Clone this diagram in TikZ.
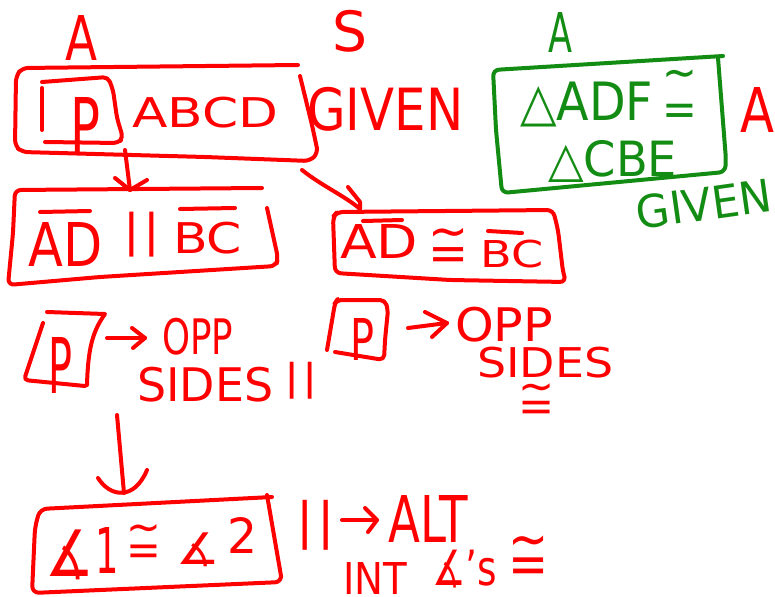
\documentclass[tikz,border=0pt]{standalone}
\usepackage{fontspec}
\setmainfont{DejaVu Sans}
\usepackage{graphicx}
\definecolor{ink}{RGB}{255,0,0}
\definecolor{inkg}{RGB}{18,140,18}
% a piece of handwriting squeezed into a w x h box (pt)
\newcommand\hwt[3]{\resizebox*{#1pt}{#2pt}{#3}}
% one character, boxed tightly round its ink
\newcount\glyphslot
\newdimen\inkT \newdimen\inkB \newdimen\inkL \newdimen\inkR
\newcommand\inkchar[1]{%
  \glyphslot=\XeTeXcharglyph#1\relax
  \inkT=\XeTeXglyphbounds2 \glyphslot
  \inkB=\XeTeXglyphbounds4 \glyphslot
  \inkL=\XeTeXglyphbounds1 \glyphslot
  \inkR=\XeTeXglyphbounds3 \glyphslot
  \hbox{\kern-\inkL\raisebox{\inkB}[\dimexpr\inkT+\inkB\relax][0pt]{\char#1}\kern-\inkR}}
% congruence sign written as a tilde over an equals sign (optional gap)
\newcommand\cg[1][0.22em]{\vbox{\offinterlineskip\halign{\hfil##\hfil\cr
  \inkchar{"7E}\cr\noalign{\kern#1}\inkchar{`=}\cr}}}
% parallel sign written as two bars
\newcommand\pl{\hbox{\inkchar{`|}\kern0.32em\inkchar{`|}}}
\newcommand\ang{\inkchar{"2221}}
\tikzset{
  hand/.style={draw=ink, line width=4pt, line cap=round, line join=round},
  handg/.style={hand, draw=inkg},
  txt/.style={inner sep=0pt, anchor=north west, text=ink},
  txtg/.style={txt, text=inkg},
}
\begin{document}
\begin{tikzpicture}[x=1pt, y=-1pt]
\useasboundingbox (0,0) rectangle (775,596);
\fill[white] (0,0) rectangle (775,596);
\clip (0,0) rectangle (775,596);

% ---- column headings ----
\node[txt]  (hA)  at (65,15)  {\hwt{32}{45}{A}};
\node[txt]  (hS)  at (332,10) {\hwt{35}{42}{S}};
\node[txtg] (hA2) at (548,12) {\hwt{24}{40}{A}};
\node[txt]  (hA3) at (740,87) {\hwt{34}{45}{A}};

% ---- given: parallelogram ABCD ----
\draw[hand, rounded corners=6pt] (298,65) -- (22,68) -- (16,76) -- (15,146) -- (22,152)
  -- (205,157) -- (310,161) -- (318,153) -- (312,125) -- (300,76);
\draw[hand] (42,88) -- (42,130);
\draw[hand, rounded corners=5pt] (42,82) -- (108,77) -- (113,90) -- (117,118) -- (123,138)
  -- (118,143) -- (45,142);
\node[txt] (p1)   at (70,97)  {\hwt{30}{56}{P}};
\node[txt] (abcd) at (132,97) {\hwt{146}{31}{ABCD}};
\node[txt] (giv1) at (307,87) {\hwt{156}{44}{GIVEN}};

% ---- arrows out of the given ----
\coordinate (a1s) at (125,150);
\coordinate (a1e) at (130,190);
\draw[hand] (a1s) -- (a1e);
\draw[hand, shift={(a1e)}] (-15,-12) -- (0,0) -- (17,-10);

\coordinate (a2s) at (302,170);
\coordinate (a2e) at (360,209);
\draw[hand] (a2s) .. controls (322,186) and (345,196) .. (a2e);
\draw[hand, shift={(a2e)}] (-12,-22) -- (0,-7) -- (0,0);

% ---- AD || BC ----
\draw[hand, rounded corners=6pt] (262,188) -- (15,190) -- (13,233) -- (8,285)
  -- (100,277) -- (276,266) -- (278,258) -- (267,208);
\draw[hand] (40,212) -- (90,211);
\draw[hand] (180,209) -- (235,208);
\node[txt] (ad1)  at (28,222)  {\hwt{74}{44}{AD}};
\node[txt] (par1) at (130,212) {\hwt{24}{45}{\pl}};
\node[txt] (bc1)  at (173,222) {\hwt{69}{32}{BC}};

% ---- AD congruent BC ----
\draw[hand, rounded corners=6pt] (333,217) -- (337,212) -- (553,210) -- (558,230) -- (563,272)
  -- (566,282) -- (450,280) -- (335,273) -- cycle;
\draw[hand] (363,221) -- (402,220);
\draw[hand] (488,231) -- (522,233);
\node[txt] (ad2)  at (340,224) {\hwt{78}{34}{AD}};
\node[txt] (cg1)  at (433,228) {\hwt{30}{34}{\cg}};
\node[txt] (bc2)  at (480,240) {\hwt{63}{28}{BC}};

% ---- given: triangles congruent ----
\draw[handg, rounded corners=6pt] (723,56) -- (493,70) -- (496,130) -- (502,193)
  -- (725,172) -- (726,160) -- (718,58);
\node[txtg] (tadf) at (520,82)  {\hwt{133}{45}{△ADF}};
\node[txtg] (cg2)  at (667,70)  {\hwt{26}{47}{\cg[0.55em]}};
\node[txtg] (tcbe) at (548,140) {\hwt{129}{42}{△CBE}};
\node[txtg, anchor=center, rotate=8] (giv2) at (704,204) {\hwt{136}{34}{GIVEN}};

% ---- parallelogram -> opposite sides parallel ----
\draw[hand] (47,312) -- (105,314) .. controls (92,332) and (88,350) .. (87,385);
\draw[hand, rounded corners=4pt] (43,323) -- (24,380) -- (85,386);
\node[txt] (p2) at (48,337) {\hwt{24}{56}{P}};
\coordinate (b1s) at (107,338);
\coordinate (b1e) at (145,338);
\draw[hand] (b1s) -- (b1e);
\draw[hand, shift={(b1e)}] (-13,-10) -- (0,0) -- (-12,10);
\node[txt] (opp1)   at (162,318) {\hwt{71}{37}{OPP}};
\node[txt] (sides1) at (137,367) {\hwt{136}{35}{SIDES}};
\node[txt] (par2)   at (290,362) {\hwt{22}{37}{\pl}};

% ---- parallelogram -> opposite sides congruent ----
\draw[hand, rounded corners=5pt] (327,350) -- (335,303) -- (337,300) -- (385,300) -- (388,310)
  -- (385,340) -- (384,360) -- (335,352);
\node[txt] (p3) at (350,318) {\hwt{24}{42}{P}};
\coordinate (b2s) at (408,328);
\coordinate (b2e) at (447,323);
\draw[hand] (b2s) -- (b2e);
\draw[hand, shift={(b2e)}] (-22,-11) -- (0,0) -- (-15,14);
\node[txt] (opp2)   at (455,307) {\hwt{98}{35}{OPP}};
\node[txt] (sides2) at (477,347) {\hwt{136}{31}{SIDES}};
\node[txt] (cg3)    at (523,384) {\hwt{27}{30}{\cg}};

% ---- down to the angle pair ----
\coordinate (d0) at (117,415);
\coordinate (d1) at (124,493);
\draw[hand] (d0) -- (d1);
\draw[hand, shift={(d1)}] (-26,-15) .. controls (-14,4) and (10,8) .. (23,-23);

% ---- angle 1 congruent angle 2 ----
\draw[hand, rounded corners=7pt] (272,497) -- (40,509) -- (35,527) -- (32,593)
  -- (282,582) -- (280,570) -- (267,495);
\node[txt] (ang1) at (50,530)  {\hwt{38}{50}{\ang}};
\node[txt] (one)  at (99,527)  {\hwt{16}{46}{\inkchar{`1}}};
\node[txt] (cg4)  at (131,524) {\hwt{26}{34}{\cg[0.3em]}};
\node[txt] (ang2) at (180,533) {\hwt{34}{34}{\ang}};
\node[txt] (two)  at (227,517) {\hwt{30}{36}{2}};

% ---- parallel -> alternate interior angles congruent ----
\node[txt] (par3) at (303,500) {\hwt{25}{50}{\pl}};
\coordinate (c1s) at (342,520);
\coordinate (c1e) at (377,520);
\draw[hand] (c1s) -- (c1e);
\draw[hand, shift={(c1e)}] (-12,-12) -- (0,0) -- (-9,12);
\node[txt] (alt)  at (388,495) {\hwt{80}{47}{ALT}};
\node[txt] (int)  at (343,562) {\hwt{64}{32}{INT}};
\node[txt] (angs) at (432,550) {\hwt{65}{38}{∡'s}};
\node[txt] (cg5)  at (513,536) {\hwt{30}{38}{\cg}};
\end{tikzpicture}
\end{document}
